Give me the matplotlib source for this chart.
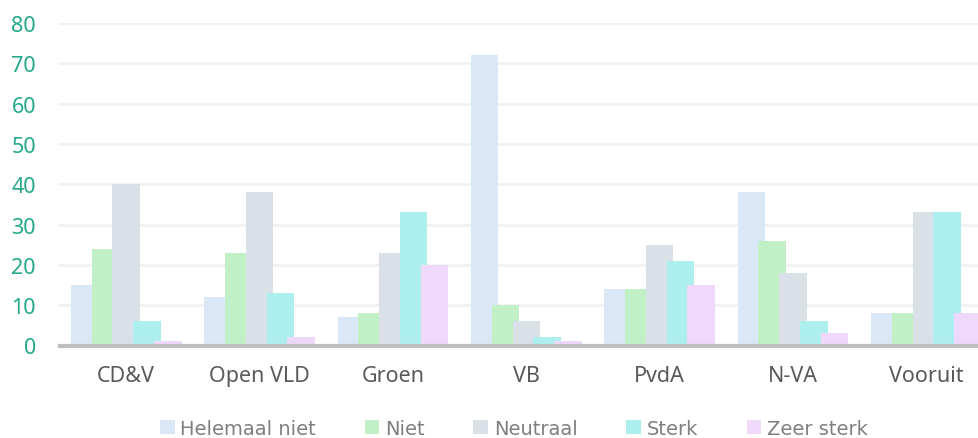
import matplotlib
matplotlib.use("Agg")
import matplotlib.pyplot as plt
import numpy as np

categories = ["CD&V", "Open VLD", "Groen", "VB", "PvdA", "N-VA", "Vooruit"]
series_names = ["Helemaal niet", "Niet", "Neutraal", "Sterk", "Zeer sterk"]
helemaal_niet = [15, 12, 7, 72, 14, 38, 8]
niet = [24, 23, 8, 10, 14, 26, 8]
neutraal = [40, 38, 23, 6, 25, 18, 33]
sterk = [6, 13, 33, 2, 21, 6, 33]
zeer_sterk = [1, 2, 20, 1, 15, 3, 8]
yticks = [0, 10, 20, 30, 40, 50, 60, 70, 80]

series = [helemaal_niet, niet, neutraal, sterk, zeer_sterk]
colors = ["#DAE7F6", "#C1EFC6", "#D9E0E8", "#ADEFEE", "#F0D8FB"]

fig = plt.figure(figsize=(9.79, 4.39), dpi=100)
W, H = 979, 439
left_px, right_px, top_px, bot_px = 59.5, 993, 24, 346.5
ax = fig.add_axes([left_px / W, 1 - bot_px / H, (right_px - left_px) / W, (bot_px - top_px) / H])

x = np.arange(len(categories))
step = 0.156
width = 0.206
offsets = (np.arange(5) - 2) * step
handles = []
for i, (vals, c, name) in enumerate(zip(series, colors, series_names)):
    b = ax.bar(x + offsets[i], vals, width=width, color=c, label=name, zorder=2 + i)
    handles.append(b)

ax.set_xlim(-0.5, len(categories) - 0.5)
ax.set_ylim(0, 80)
ax.set_yticks(yticks)
ax.yaxis.grid(True, color="#F0F0F0", linewidth=1.8, zorder=0)
ax.set_axisbelow(True)
for s in ["top", "right", "left"]:
    ax.spines[s].set_visible(False)
ax.spines["bottom"].set_color("#BFBFBF")
ax.spines["bottom"].set_linewidth(3)
ax.spines["bottom"].set_zorder(10)
ax.tick_params(axis="y", length=0, pad=17, labelsize=15.5, labelcolor="#25A88C")
ax.tick_params(axis="x", length=0, pad=14, labelsize=15.5, labelcolor="#595959")
ax.set_xticks(x)
ax.set_xticklabels(categories)
for lab in ax.get_yticklabels() + ax.get_xticklabels():
    lab.set_family(["Noto Sans", "DejaVu Sans"])

leg = fig.legend(handles=handles, labels=series_names, loc="lower center",
                 bbox_to_anchor=(0.525, -0.04), ncol=5, frameon=False,
                 handlelength=0.75, handleheight=0.75, handletextpad=0.3,
                 columnspacing=2.5,
                 prop={"family": ["DejaVu Sans"], "size": 14})
for t in leg.get_texts():
    t.set_color("#7F7F7F")

fig.savefig("out.png", dpi=100)
